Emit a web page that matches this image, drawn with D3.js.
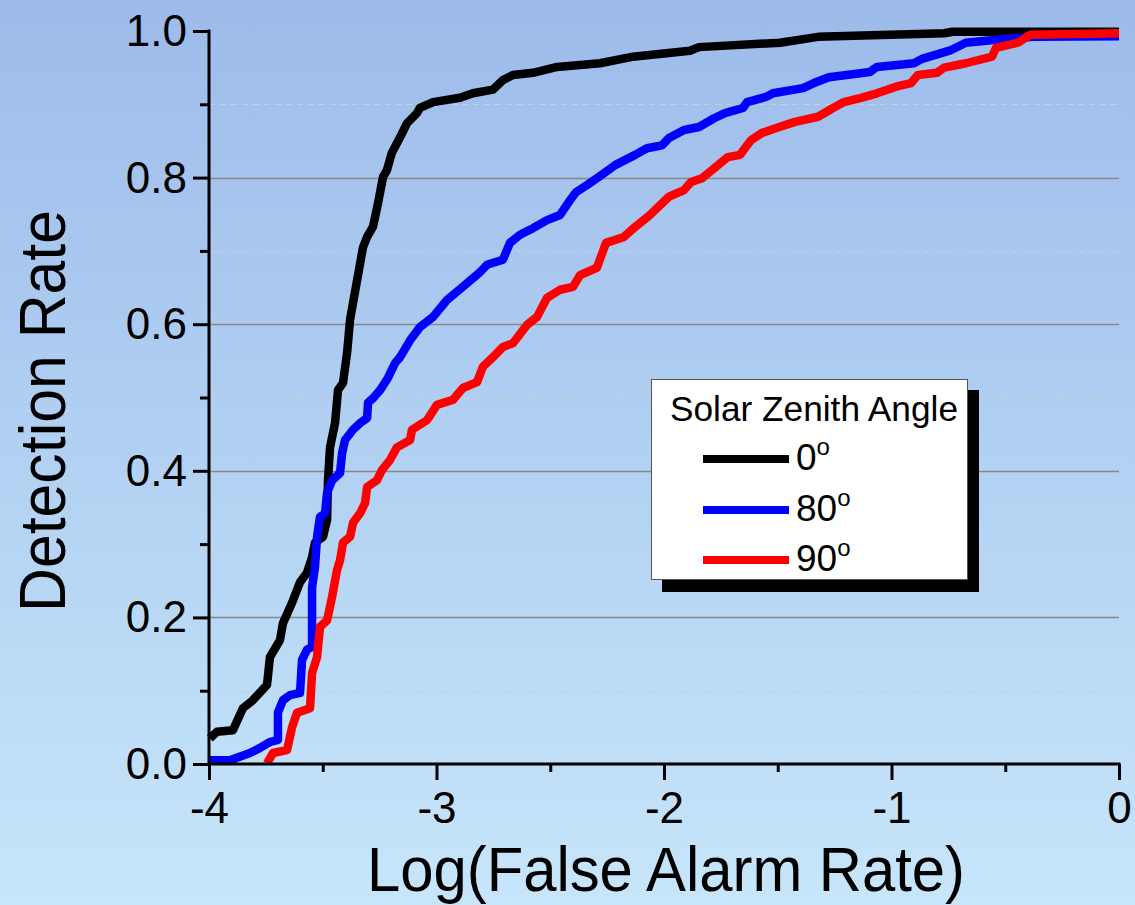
<!DOCTYPE html>
<html>
<head>
<meta charset="utf-8">
<script src="https://cdn.jsdelivr.net/npm/d3@7"></script>
<style>
  html, body { margin: 0; padding: 0; }
  body { width: 1135px; height: 905px; overflow: hidden; }
  text { font-family: "Liberation Sans", Arial, sans-serif; fill: #000; }
</style>
</head>
<body>
<svg id="chart" width="1135" height="905"></svg>
<script>
// ---------- data ----------
const seriesNames = ["0", "80", "90"];
const seriesColors = ["#000000", "#0000ff", "#ff0000"];

const zenith0 = [
  [-3.996,0.035],[-3.965,0.044],[-3.895,0.046],[-3.851,0.076],[-3.807,0.087],[-3.745,0.108],
  [-3.732,0.146],[-3.688,0.169],[-3.675,0.192],[-3.635,0.220],[-3.600,0.248],[-3.569,0.261],
  [-3.547,0.282],[-3.534,0.302],[-3.499,0.310],[-3.481,0.333],[-3.477,0.387],[-3.468,0.432],
  [-3.446,0.465],[-3.433,0.510],[-3.411,0.520],[-3.393,0.561],[-3.380,0.606],[-3.367,0.629],
  [-3.349,0.660],[-3.323,0.705],[-3.305,0.719],[-3.279,0.733],[-3.257,0.765],[-3.235,0.801],
  [-3.218,0.810],[-3.196,0.834],[-3.160,0.855],[-3.130,0.874],[-3.086,0.888],[-3.073,0.895],
  [-3.015,0.903],[-2.897,0.909],[-2.840,0.915],[-2.752,0.920],[-2.708,0.933],[-2.664,0.940],
  [-2.576,0.943],[-2.470,0.951],[-2.281,0.956],[-2.136,0.965],[-1.886,0.973],[-1.846,0.978],
  [-1.490,0.984],[-1.323,0.992],[-0.769,0.997],[-0.730,0.999],[0,0.999]
];
const zenith80 = [
  [-3.996,0.005],[-3.908,0.005],[-3.820,0.015],[-3.776,0.022],[-3.732,0.030],[-3.697,0.033],
  [-3.697,0.070],[-3.675,0.087],[-3.644,0.094],[-3.600,0.097],[-3.591,0.142],[-3.569,0.156],
  [-3.547,0.160],[-3.547,0.241],[-3.534,0.269],[-3.525,0.310],[-3.512,0.337],[-3.490,0.342],
  [-3.481,0.370],[-3.459,0.387],[-3.424,0.397],[-3.415,0.424],[-3.402,0.442],[-3.367,0.456],
  [-3.336,0.465],[-3.305,0.472],[-3.301,0.493],[-3.279,0.499],[-3.248,0.510],[-3.213,0.527],
  [-3.182,0.547],[-3.160,0.555],[-3.116,0.578],[-3.073,0.596],[-3.015,0.610],[-2.954,0.633],
  [-2.884,0.651],[-2.809,0.671],[-2.778,0.681],[-2.708,0.688],[-2.677,0.711],[-2.633,0.722],
  [-2.576,0.731],[-2.514,0.742],[-2.457,0.749],[-2.418,0.767],[-2.387,0.780],[-2.338,0.790],
  [-2.273,0.804],[-2.215,0.817],[-2.127,0.831],[-2.075,0.840],[-2.009,0.844],[-1.978,0.854],
  [-1.912,0.865],[-1.846,0.869],[-1.780,0.881],[-1.732,0.888],[-1.653,0.895],[-1.635,0.903],
  [-1.552,0.910],[-1.521,0.915],[-1.389,0.922],[-1.341,0.929],[-1.275,0.937],[-1.095,0.944],
  [-1.064,0.951],[-0.901,0.956],[-0.866,0.962],[-0.738,0.974],[-0.673,0.984],[-0.541,0.988],
  [-0.378,0.992],[0,0.993]
];
const zenith90 = [
  [-3.745,0.001],[-3.719,0.015],[-3.657,0.019],[-3.635,0.050],[-3.613,0.070],[-3.556,0.076],
  [-3.547,0.124],[-3.525,0.146],[-3.512,0.187],[-3.481,0.196],[-3.459,0.228],[-3.437,0.265],
  [-3.424,0.278],[-3.411,0.302],[-3.380,0.310],[-3.367,0.329],[-3.336,0.342],[-3.314,0.356],
  [-3.305,0.378],[-3.262,0.387],[-3.240,0.401],[-3.204,0.415],[-3.174,0.432],[-3.116,0.442],
  [-3.108,0.456],[-3.042,0.469],[-2.998,0.490],[-2.927,0.497],[-2.884,0.513],[-2.822,0.521],
  [-2.796,0.542],[-2.752,0.555],[-2.708,0.569],[-2.664,0.574],[-2.602,0.599],[-2.558,0.610],
  [-2.514,0.636],[-2.457,0.647],[-2.400,0.651],[-2.369,0.667],[-2.295,0.677],[-2.255,0.711],
  [-2.176,0.719],[-2.141,0.729],[-2.062,0.749],[-1.978,0.774],[-1.912,0.783],[-1.881,0.794],
  [-1.833,0.799],[-1.719,0.828],[-1.666,0.831],[-1.618,0.851],[-1.569,0.861],[-1.503,0.868],
  [-1.424,0.876],[-1.323,0.883],[-1.257,0.895],[-1.209,0.903],[-1.130,0.909],[-1.064,0.915],
  [-0.980,0.924],[-0.914,0.929],[-0.884,0.940],[-0.800,0.943],[-0.769,0.950],[-0.673,0.956],
  [-0.558,0.965],[-0.541,0.977],[-0.444,0.984],[-0.391,0.995],[0,0.997]
];
const allSeries = [zenith0, zenith80, zenith90];

const xTickValues = [-4, -3, -2, -1, 0];
const xTickLabels = ["-4", "-3", "-2", "-1", "0"];
const xMinorTicks = [-3.5, -2.5, -1.5, -0.5];
const yTickValues = [0, 0.2, 0.4, 0.6, 0.8, 1.0];
const yTickLabels = ["0.0", "0.2", "0.4", "0.6", "0.8", "1.0"];
const yMinorTicks = [0.1, 0.3, 0.5, 0.7, 0.9];
const yMajorGrid = [0.2, 0.4, 0.6, 0.8];

const xTitle = "Log(False Alarm Rate)";
const yTitle = "Detection Rate";
const legendTitle = "Solar Zenith Angle";

// ---------- layout ----------
const svg = d3.select("#chart");
const W = 1135, H = 905;
const pLeft = 209, pRight = 1119, pTop = 31, pBottom = 764;

const defs = svg.append("defs");
const grad = defs.append("linearGradient").attr("id", "bg")
  .attr("x1", 0).attr("y1", 0).attr("x2", 0).attr("y2", 1);
grad.append("stop").attr("offset", "0%").attr("stop-color", "#9dbbea");
grad.append("stop").attr("offset", "100%").attr("stop-color", "#c7e6fa");
svg.append("rect").attr("width", W).attr("height", H).attr("fill", "url(#bg)");

const x = d3.scaleLinear().domain([-4, 0]).range([pLeft, pRight]);
const y = d3.scaleLinear().domain([0, 1]).range([pBottom, pTop]);

// gridlines
svg.append("g").selectAll("line").data(yMinorTicks).join("line")
  .attr("x1", pLeft).attr("x2", pRight)
  .attr("y1", d => Math.round(y(d)) + 0.5).attr("y2", d => Math.round(y(d)) + 0.5)
  .attr("stroke", "#cfcdce").attr("stroke-width", 1).attr("stroke-dasharray", "6,5");
svg.append("g").selectAll("line").data(yMajorGrid).join("line")
  .attr("x1", pLeft).attr("x2", pRight)
  .attr("y1", d => Math.round(y(d)) + 0.5).attr("y2", d => Math.round(y(d)) + 0.5)
  .attr("stroke", "#888888").attr("stroke-width", 1.3);

// curves
const line = d3.line().x(d => x(d[0])).y(d => y(d[1]));
svg.append("g").selectAll("path").data(allSeries).join("path")
  .attr("d", line)
  .attr("fill", "none")
  .attr("stroke", (d, i) => seriesColors[i])
  .attr("stroke-width", 8.5)
  .attr("stroke-linejoin", "round")
  .attr("stroke-linecap", "butt");

// axes
const yAxis = svg.append("g").attr("transform", `translate(${pLeft},0)`)
  .call(d3.axisLeft(y).tickValues(yTickValues).tickSize(16)
        .tickFormat((d, i) => yTickLabels[i]).tickPadding(8));
const yMinor = svg.append("g").attr("transform", `translate(${pLeft},0)`)
  .call(d3.axisLeft(y).tickValues(yMinorTicks).tickSize(9).tickFormat(""));
const xAxis = svg.append("g").attr("transform", `translate(0,${pBottom})`)
  .call(d3.axisBottom(x).tickValues(xTickValues).tickSize(16)
        .tickFormat((d, i) => xTickLabels[i]).tickPadding(12));
const xMinor = svg.append("g").attr("transform", `translate(0,${pBottom})`)
  .call(d3.axisBottom(x).tickValues(xMinorTicks).tickSize(8).tickFormat(""));

[yAxis, yMinor, xAxis, xMinor].forEach(g => {
  g.select(".domain").attr("stroke", "#000").attr("stroke-width", 3);
  g.selectAll(".tick line").attr("stroke", "#000").attr("stroke-width", 3);
});
yMinor.select(".domain").remove();
xMinor.select(".domain").remove();
yAxis.select(".domain").attr("d", `M0,${pTop - 1.5}V${pBottom + 1.5}`);
xAxis.select(".domain").attr("d", `M${pLeft - 1.5},0H${pRight + 1.5}`);

yAxis.selectAll(".tick text")
  .attr("font-size", 44).attr("font-family", "Liberation Sans, Arial, sans-serif")
  .attr("fill", "#000").attr("dy", "0.33em").attr("x", -22);
xAxis.selectAll(".tick text")
  .attr("font-size", 44).attr("font-family", "Liberation Sans, Arial, sans-serif")
  .attr("fill", "#000").attr("dy", 0).attr("y", 59);

// axis titles
svg.append("text")
  .attr("x", 367).attr("y", 891)
  .attr("font-size", 63)
  .attr("textLength", 598).attr("lengthAdjust", "spacingAndGlyphs")
  .text(xTitle);
svg.append("text")
  .attr("transform", "translate(65,612) rotate(-90)")
  .attr("x", 0).attr("y", 0)
  .attr("font-size", 64)
  .attr("textLength", 402).attr("lengthAdjust", "spacingAndGlyphs")
  .text(yTitle);

// legend
const lg = svg.append("g");
lg.append("rect").attr("x", 662).attr("y", 390).attr("width", 317).attr("height", 202).attr("fill", "#000");
lg.append("rect").attr("x", 651.5).attr("y", 379.5).attr("width", 316).attr("height", 200)
  .attr("fill", "#fff").attr("stroke", "#555").attr("stroke-width", 1);
lg.append("text").attr("x", 670).attr("y", 421).attr("font-size", 35)
  .attr("textLength", 288).attr("lengthAdjust", "spacingAndGlyphs")
  .text(legendTitle);
const legendRowY = [459, 510, 560];
seriesNames.forEach((name, i) => {
  lg.append("line").attr("x1", 703).attr("x2", 789)
    .attr("y1", legendRowY[i]).attr("y2", legendRowY[i])
    .attr("stroke", seriesColors[i]).attr("stroke-width", 8);
  const t = lg.append("text").attr("x", 796).attr("y", legendRowY[i] + 11).attr("font-size", 37);
  t.append("tspan").text(name);
  t.append("tspan").attr("font-size", 24).attr("dy", -15).text("o");
});
</script>
</body>
</html>
